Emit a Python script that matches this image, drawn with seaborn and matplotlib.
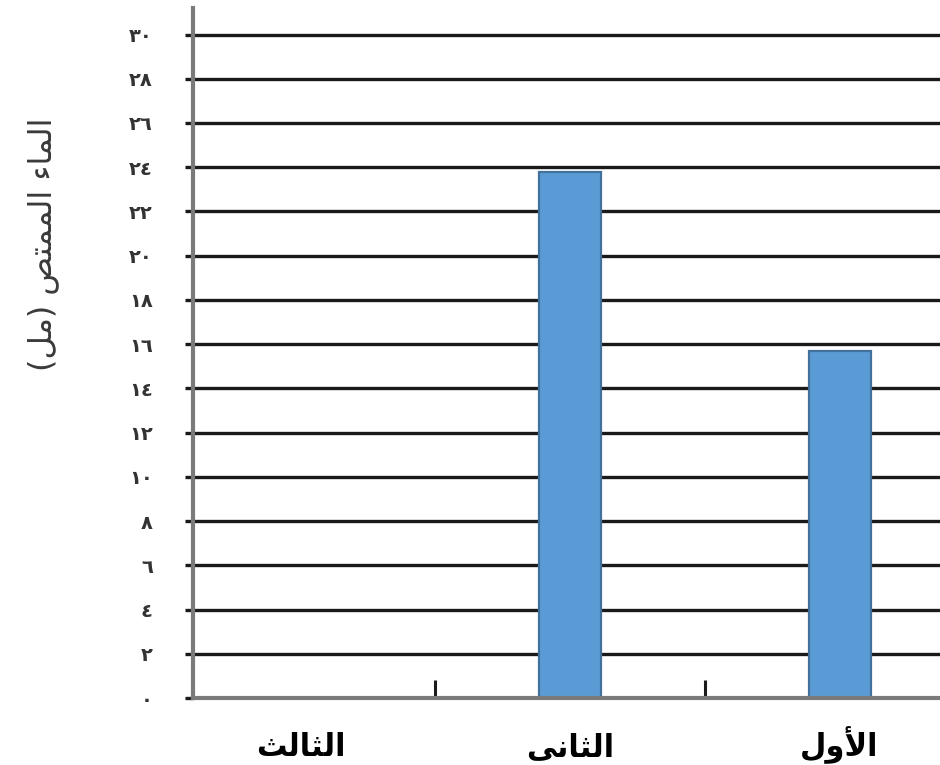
import matplotlib
matplotlib.use("Agg")
import matplotlib.pyplot as plt
import seaborn as sns
import pandas as pd
from matplotlib.ticker import FixedLocator

# ---- data (display order, left to right) ----
categories = ["الثالث", "الثانى", "الأول"]
water = [0.0, 23.8, 15.7]
y_ticks = list(range(0, 31, 2))
y_label = "الماء الممتص (مل)"

# ---- minimal Arabic shaping for matplotlib (no native RTL shaping) ----
FORMS = {
    '\u0621': ('\uFE80', None, None, None),
    '\u0623': ('\uFE83', '\uFE84', None, None),
    '\u0627': ('\uFE8D', '\uFE8E', None, None),
    '\u062A': ('\uFE95', '\uFE96', '\uFE97', '\uFE98'),
    '\u062B': ('\uFE99', '\uFE9A', '\uFE9B', '\uFE9C'),
    '\u0635': ('\uFEB9', '\uFEBA', '\uFEBB', '\uFEBC'),
    '\u0644': ('\uFEDD', '\uFEDE', '\uFEDF', '\uFEE0'),
    '\u0645': ('\uFEE1', '\uFEE2', '\uFEE3', '\uFEE4'),
    '\u0646': ('\uFEE5', '\uFEE6', '\uFEE7', '\uFEE8'),
    '\u0648': ('\uFEED', '\uFEEE', None, None),
    '\u0649': ('\uFEEF', '\uFEF0', None, None),
}
LAM_ALEF = {'\u0627': ('\uFEFB', '\uFEFC'), '\u0623': ('\uFEF7', '\uFEF8')}


def _dual(c):
    return c in FORMS and FORMS[c][2] is not None


def _joins(c):
    return c in FORMS and FORMS[c][1] is not None


def shape(text):
    chars = list(text)
    out = []
    i = 0
    while i < len(chars):
        c = chars[i]
        prev = chars[i - 1] if i > 0 else None
        nxt = chars[i + 1] if i + 1 < len(chars) else None
        if c not in FORMS:
            out.append(c)
            i += 1
            continue
        jp = prev is not None and _dual(prev) and _joins(c)
        if c == '\u0644' and nxt in LAM_ALEF:
            out.append(LAM_ALEF[nxt][1 if jp else 0])
            i += 2
            continue
        jn = _dual(c) and nxt is not None and _joins(nxt)
        iso, fin, ini, med = FORMS[c]
        if jp and jn:
            f = med
        elif jp:
            f = fin
        elif jn:
            f = ini
        else:
            f = iso
        out.append(f)
        i += 1
    mirror = {'(': ')', ')': '('}
    return ''.join(mirror.get(ch, ch) for ch in reversed(out))


def arabic_digits(n):
    return ''.join('٠١٢٣٤٥٦٧٨٩'[int(d)] for d in str(n))


df = pd.DataFrame({"group": categories, "water": water})

sns.set_style("white")
plt.rcParams['font.family'] = ['DejaVu Sans']

fig = plt.figure(figsize=(9.4, 7.65), dpi=100)
ax = fig.add_axes([193 / 940, 1 - 698 / 765, 1 - 193 / 940 + 0.005, (698 - 8) / 765])

sns.barplot(data=df, x="group", y="water", order=categories, color="#5B9BD5",
            saturation=1, width=0.23, edgecolor="#41719C", linewidth=1.6, ax=ax)

ax.set_ylim(0, 31.2)
ax.set_xlim(-0.4, 2.39)
ax.set_axisbelow(True)

# horizontal gridlines
ax.set_yticks(y_ticks)
ax.set_yticklabels([arabic_digits(v) for v in y_ticks], fontsize=14, fontweight="bold",
                   color="#333333")
ax.yaxis.grid(True, color="#1a1a1a", linewidth=2.4)
ax.xaxis.grid(False)
ax.tick_params(axis="y", length=6, width=2.4, color="#1a1a1a", pad=23, left=True)

# x labels
ax.set_xticks(range(len(categories)))
ax.set_xticklabels([shape(c) for c in categories], fontsize=22, fontweight="bold",
                   color="black", va="baseline")
ax.tick_params(axis="x", length=0, pad=42)
ax.xaxis.set_minor_locator(FixedLocator([0.5, 1.5]))
ax.tick_params(axis="x", which="minor", direction="in", length=13, width=2.2, color="#1a1a1a", bottom=True)

for side in ["top", "right"]:
    ax.spines[side].set_visible(False)
for side in ["left", "bottom"]:
    ax.spines[side].set_color("#7a7a7a")
    ax.spines[side].set_linewidth(3)

ax.set_xlabel("")
ax.set_ylabel(shape(y_label), fontsize=23, color="#3a3a3a", rotation=90)
ax.yaxis.set_label_coords(-0.178, 0.658)

fig.savefig("out.png", dpi=100)
